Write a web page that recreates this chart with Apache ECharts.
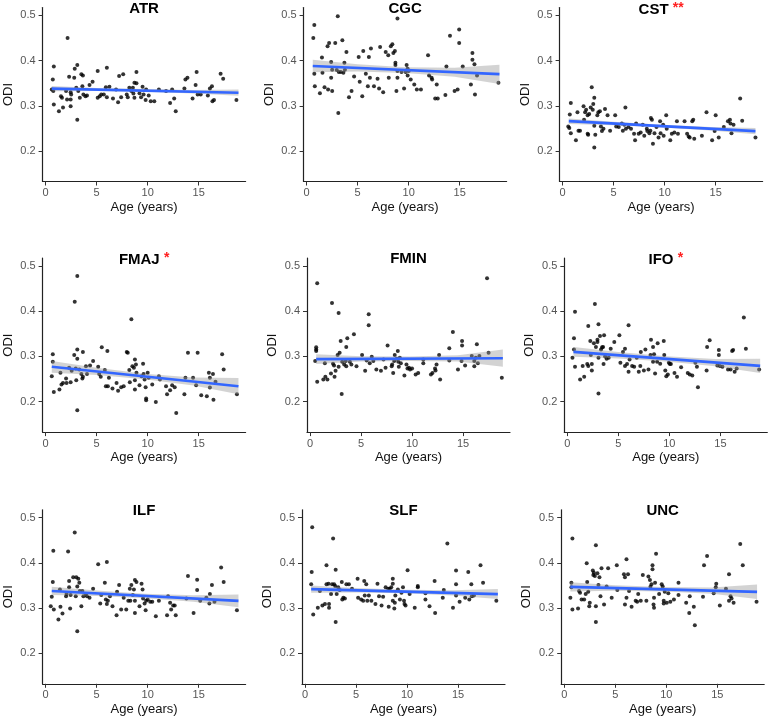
<!DOCTYPE html>
<html><head><meta charset="utf-8">
<script src="https://cdn.jsdelivr.net/npm/echarts@6/dist/echarts.min.js"></script>
<style>html,body{margin:0;padding:0;background:#fff}#c{width:771px;height:720px}</style>
</head><body><div id="c"></div>
<script>
const panelNames = ['ATR','CGC','CST','FMAJ','FMIN','IFO','ILF','SLF','UNC'];
const panelStars = ['','','**','*','','*','','',''];
const xTicks = [0,5,10,15];
const yTicks = [0.2,0.3,0.4,0.5];
const xTitle = 'Age (years)';
const yTitle = 'ODI';

const ATR = [[0.6,.336],[0.7,.358],[0.8,.387],[0.75,.333],[0.8,.303],[1.3,.288],[1.5,.321],[1.6,.318],[1.7,.296],[2.0,.333],[2.15,.45],[2.1,.314],[2.3,.364],[2.45,.330],[2.45,.314],[2.45,.299],[2.5,.325],[2.8,.362],[2.85,.382],[3.0,.340],[3.1,.390],[3.1,.269],[3.2,.333],[3.35,.318],[3.5,.370],[3.65,.367],[3.6,.343],[3.7,.325],[3.9,.321],[4.05,.323],[4.3,.346],[4.6,.353],[5.1,.377],[5.1,.318],[5.3,.321],[5.45,.325],[5.7,.325],[5.9,.341],[6.0,.384],[6.0,.319],[6.25,.342],[6.6,.316],[6.9,.336],[7.1,.308],[7.2,.366],[7.4,.319],[7.6,.370],[7.95,.325],[8.05,.319],[8.2,.340],[8.4,.333],[8.55,.340],[8.6,.327],[8.7,.351],[8.9,.350],[8.9,.375],[8.7,.318],[9.2,.328],[9.35,.319],[9.5,.342],[9.6,.325],[9.8,.313],[9.85,.336],[10.1,.323],[10.3,.310],[10.65,.310],[11.1,.336],[11.8,.333],[12.2,.306],[12.4,.336],[12.6,.316],[12.75,.288],[13.6,.338],[13.7,.358],[13.9,.362],[14.4,.316],[14.7,.346],[14.8,.375],[14.9,.325],[15.2,.325],[15.9,.323],[16.1,.338],[16.3,.343],[16.35,.310],[16.5,.313],[17.15,.371],[17.4,.360],[18.7,.313]];

const CGC = [[0.65,.450],[0.75,.479],[0.75,.371],[0.8,.343],[1.3,.328],[1.5,.407],[1.55,.373],[1.75,.341],[2.05,.432],[2.2,.439],[2.1,.336],[2.4,.362],[2.4,.397],[2.5,.380],[2.5,.333],[2.8,.439],[3.05,.498],[2.95,.379],[3.1,.284],[3.15,.375],[3.35,.375],[3.5,.445],[3.6,.373],[3.7,.395],[3.75,.380],[3.9,.419],[4.15,.319],[4.4,.333],[4.65,.365],[5.1,.408],[5.2,.353],[5.45,.321],[5.55,.421],[5.8,.371],[6.0,.343],[6.1,.408],[6.2,.362],[6.3,.427],[6.6,.343],[6.95,.360],[7.1,.338],[7.2,.430],[7.5,.330],[7.75,.419],[8.0,.412],[8.05,.362],[8.25,.432],[8.4,.436],[8.5,.417],[8.65,.421],[8.7,.395],[8.7,.390],[8.8,.333],[8.9,.493],[8.9,.377],[8.9,.362],[9.3,.375],[9.55,.338],[9.7,.375],[9.8,.390],[9.9,.382],[9.9,.367],[10.0,.377],[10.2,.358],[10.55,.347],[10.8,.336],[11.2,.336],[11.9,.412],[12.0,.367],[12.25,.362],[12.3,.358],[12.6,.316],[12.85,.316],[12.75,.347],[13.6,.324],[13.7,.387],[14.05,.455],[14.5,.333],[14.8,.336],[14.95,.469],[14.95,.439],[15.3,.387],[16.1,.347],[16.25,.402],[16.25,.417],[16.45,.392],[16.5,.325],[16.7,.367],[18.8,.351]];

const CST = [[0.55,.254],[0.65,.251],[0.7,.281],[0.8,.306],[0.8,.239],[1.3,.224],[1.45,.286],[1.55,.245],[1.7,.245],[2.05,.299],[2.1,.269],[2.2,.286],[2.3,.291],[2.45,.279],[2.45,.238],[2.5,.236],[2.6,.282],[2.75,.296],[2.85,.341],[2.95,.291],[3.0,.304],[3.1,.318],[3.1,.256],[3.1,.208],[3.2,.236],[3.4,.279],[3.5,.286],[3.65,.288],[3.75,.254],[3.85,.244],[4.0,.249],[4.15,.293],[4.4,.279],[4.65,.245],[5.15,.279],[5.25,.254],[5.5,.253],[5.8,.261],[5.9,.245],[6.05,.258],[6.15,.296],[6.2,.249],[6.45,.253],[6.7,.249],[7.0,.238],[7.1,.224],[7.2,.261],[7.45,.238],[7.65,.241],[7.85,.258],[8.0,.234],[8.25,.249],[8.3,.244],[8.5,.239],[8.6,.245],[8.65,.273],[8.75,.269],[8.85,.216],[9.0,.239],[9.2,.253],[9.4,.230],[9.55,.266],[9.6,.239],[9.85,.258],[9.9,.234],[10.15,.279],[10.2,.249],[10.55,.224],[10.7,.238],[10.95,.241],[11.2,.266],[11.3,.238],[11.95,.266],[12.2,.238],[12.35,.232],[12.45,.230],[12.7,.266],[12.8,.269],[12.9,.227],[13.65,.234],[14.1,.286],[14.65,.224],[14.9,.244],[15.0,.279],[15.3,.230],[15.8,.253],[16.2,.266],[16.4,.269],[16.45,.261],[16.55,.239],[16.75,.258],[17.4,.316],[17.6,.267],[18.9,.230]];

const FMAJ = [[0.6,.256],[0.7,.305],[0.7,.288],[0.8,.221],[1.35,.227],[1.45,.264],[1.55,.238],[1.7,.241],[2.0,.251],[2.05,.241],[2.3,.275],[2.45,.243],[2.55,.268],[2.8,.303],[2.85,.421],[2.95,.273],[3.0,.247],[3.1,.478],[3.1,.315],[3.1,.295],[3.1,.181],[3.3,.271],[3.5,.261],[3.6,.251],[3.65,.310],[3.65,.255],[3.95,.278],[4.05,.261],[4.35,.280],[4.65,.290],[5.15,.277],[5.25,.261],[5.4,.255],[5.5,.320],[5.8,.270],[5.9,.234],[6.05,.312],[6.1,.234],[6.2,.253],[6.55,.229],[6.95,.241],[7.1,.224],[7.4,.232],[7.65,.234],[7.95,.310],[8.05,.308],[8.2,.270],[8.25,.243],[8.4,.382],[8.5,.278],[8.65,.275],[8.75,.293],[8.75,.247],[8.85,.282],[8.75,.227],[8.9,.264],[9.2,.236],[9.4,.256],[9.55,.284],[9.6,.261],[9.7,.249],[9.8,.232],[9.85,.207],[9.85,.203],[10.0,.264],[10.1,.253],[10.45,.238],[10.8,.199],[11.1,.256],[11.2,.249],[11.8,.234],[11.9,.216],[12.2,.225],[12.4,.236],[12.65,.232],[12.8,.175],[13.6,.216],[13.7,.253],[13.95,.308],[14.45,.253],[14.75,.236],[14.9,.308],[15.25,.214],[15.8,.212],[16.0,.264],[16.1,.253],[16.1,.231],[16.4,.261],[16.45,.204],[16.65,.244],[17.3,.305],[17.45,.271],[18.75,.216]];

const FMIN = [[0.5,.290],[0.6,.320],[0.6,.315],[0.6,.312],[0.7,.462],[0.7,.244],[1.3,.249],[1.45,.285],[1.5,.255],[1.7,.249],[2.05,.262],[2.15,.418],[2.25,.284],[2.35,.280],[2.4,.255],[2.5,.268],[2.7,.303],[2.8,.396],[2.8,.277],[2.9,.308],[3.0,.334],[3.1,.217],[3.15,.288],[3.35,.282],[3.5,.290],[3.55,.321],[3.55,.278],[3.65,.340],[3.9,.288],[4.05,.282],[4.3,.349],[4.55,.278],[5.1,.303],[5.4,.268],[5.55,.291],[5.75,.393],[5.75,.369],[5.85,.285],[6.05,.299],[6.2,.290],[6.5,.271],[6.95,.268],[7.2,.293],[7.4,.275],[7.6,.324],[8.0,.278],[8.05,.282],[8.15,.263],[8.25,.290],[8.3,.303],[8.5,.295],[8.6,.312],[8.65,.288],[8.7,.277],[8.8,.297],[8.9,.285],[9.25,.258],[9.45,.282],[9.55,.273],[9.7,.275],[9.8,.271],[10.0,.273],[10.35,.260],[10.6,.263],[11.1,.285],[11.1,.293],[11.85,.260],[12.0,.263],[12.25,.273],[12.3,.269],[12.4,.282],[12.65,.303],[12.75,.249],[13.65,.318],[13.65,.291],[14.0,.354],[14.5,.271],[14.85,.290],[14.9,.334],[14.9,.324],[15.2,.280],[15.85,.301],[16.1,.290],[16.1,.278],[16.25,.297],[16.35,.327],[16.45,.285],[16.6,.301],[17.35,.473],[17.5,.308],[18.8,.253]];

const IFO = [[0.5,.297],[0.65,.340],[0.65,.315],[0.75,.399],[0.75,.277],[1.25,.249],[1.5,.279],[1.65,.255],[1.95,.283],[2.05,.367],[2.05,.279],[2.25,.334],[2.3,.303],[2.4,.283],[2.4,.269],[2.6,.329],[2.7,.416],[2.8,.321],[2.95,.332],[2.95,.337],[3.05,.218],[3.05,.371],[3.05,.297],[3.2,.345],[3.3,.315],[3.4,.320],[3.5,.321],[3.55,.283],[3.6,.347],[3.7,.300],[3.85,.295],[4.05,.297],[4.25,.317],[4.6,.332],[5.1,.347],[5.2,.286],[5.45,.310],[5.65,.317],[5.65,.279],[5.85,.283],[6.0,.369],[6.0,.266],[6.1,.293],[6.35,.279],[6.55,.277],[6.8,.297],[7.0,.266],[7.15,.279],[7.2,.310],[7.5,.269],[7.65,.315],[7.95,.271],[8.15,.303],[8.2,.337],[8.4,.288],[8.4,.321],[8.5,.305],[8.6,.262],[8.8,.288],[8.85,.329],[9.1,.284],[9.45,.334],[9.5,.303],[9.6,.269],[9.7,.256],[9.85,.260],[9.95,.286],[10.05,.283],[10.15,.283],[10.5,.263],[10.75,.255],[11.15,.276],[11.8,.263],[12.0,.260],[12.25,.258],[12.55,.286],[12.7,.277],[12.8,.232],[13.65,.269],[13.7,.321],[13.95,.336],[14.7,.280],[14.85,.303],[14.85,.314],[14.95,.279],[15.2,.277],[15.75,.271],[16.0,.271],[16.15,.312],[16.25,.314],[16.4,.266],[16.6,.273],[17.3,.386],[17.5,.317],[18.8,.271]];

const ILF = [[0.5,.304],[0.6,.325],[0.7,.358],[0.75,.427],[0.8,.297],[1.25,.275],[1.4,.341],[1.45,.303],[1.65,.288],[2.0,.326],[2.05,.331],[2.2,.425],[2.3,.360],[2.3,.346],[2.4,.299],[2.45,.329],[2.7,.368],[2.85,.467],[2.95,.326],[3.0,.368],[3.1,.249],[3.2,.365],[3.1,.348],[3.3,.356],[3.35,.338],[3.5,.304],[3.6,.338],[3.7,.326],[3.95,.331],[4.05,.326],[4.3,.323],[4.65,.343],[5.15,.397],[5.35,.310],[5.45,.329],[5.8,.356],[5.9,.319],[6.0,.402],[6.0,.309],[6.1,.316],[6.3,.326],[6.55,.304],[6.95,.284],[7.0,.336],[7.2,.351],[7.4,.297],[7.65,.323],[7.9,.297],[8.1,.316],[8.25,.343],[8.3,.316],[8.4,.351],[8.55,.329],[8.65,.341],[8.75,.362],[8.75,.316],[8.75,.289],[8.9,.358],[9.2,.304],[9.4,.354],[9.5,.341],[9.55,.321],[9.7,.310],[9.8,.295],[9.85,.316],[10.0,.319],[10.25,.314],[10.45,.314],[10.8,.282],[11.1,.316],[11.9,.284],[12.0,.326],[12.2,.312],[12.3,.297],[12.5,.306],[12.65,.306],[12.75,.284],[13.8,.321],[13.95,.371],[14.5,.289],[14.85,.340],[14.85,.363],[15.15,.316],[15.75,.323],[16.05,.310],[16.1,.331],[16.3,.351],[16.55,.314],[17.2,.390],[17.45,.358],[18.75,.295]];

const SLF = [[0.6,.353],[0.65,.380],[0.7,.479],[0.8,.286],[1.25,.301],[1.45,.338],[1.7,.306],[1.95,.309],[2.1,.395],[2.1,.353],[2.3,.354],[2.35,.309],[2.35,.301],[2.55,.331],[2.65,.353],[2.75,.454],[2.85,.353],[2.95,.349],[3.0,.385],[3.1,.331],[3.0,.269],[3.25,.346],[3.4,.340],[3.6,.358],[3.65,.319],[3.75,.323],[3.9,.321],[4.05,.353],[4.3,.353],[4.6,.343],[5.15,.365],[5.2,.323],[5.5,.319],[5.7,.316],[5.8,.360],[5.85,.328],[6.0,.353],[6.1,.316],[6.25,.328],[6.5,.316],[6.9,.309],[7.1,.354],[7.25,.326],[7.5,.306],[7.65,.325],[7.9,.346],[8.15,.343],[8.2,.303],[8.3,.343],[8.45,.346],[8.6,.365],[8.6,.354],[8.6,.316],[8.75,.299],[8.8,.312],[8.85,.328],[9.1,.341],[9.3,.319],[9.45,.334],[9.6,.346],[9.7,.316],[9.75,.309],[9.85,.306],[10.05,.384],[10.25,.331],[11.05,.349],[11.05,.346],[10.75,.301],[11.8,.333],[11.8,.319],[12.2,.304],[12.7,.360],[12.75,.289],[13.5,.323],[13.6,.340],[13.95,.443],[14.5,.301],[14.8,.328],[14.8,.353],[14.8,.383],[15.15,.314],[15.7,.323],[16.0,.380],[16.1,.319],[16.3,.353],[16.35,.326],[16.55,.328],[17.2,.395],[17.45,.356],[18.75,.316]];

const UNC = [[0.6,.323],[0.7,.356],[0.7,.346],[0.8,.454],[0.8,.297],[1.35,.299],[1.45,.338],[1.55,.334],[1.7,.319],[1.95,.319],[2.1,.331],[2.2,.399],[2.25,.358],[2.35,.336],[2.45,.304],[2.5,.312],[2.8,.383],[2.85,.373],[2.9,.378],[3.0,.371],[3.1,.439],[3.1,.304],[3.1,.269],[3.25,.377],[3.35,.351],[3.45,.368],[3.55,.326],[3.65,.388],[3.9,.308],[4.15,.348],[4.3,.388],[4.65,.323],[5.15,.395],[5.2,.340],[5.85,.375],[5.95,.368],[5.95,.308],[6.1,.408],[6.1,.323],[6.25,.375],[6.35,.338],[6.6,.303],[7.0,.316],[7.15,.314],[7.25,.331],[7.5,.316],[7.7,.373],[8.05,.316],[8.25,.370],[8.4,.362],[8.45,.347],[8.55,.353],[8.65,.386],[8.65,.395],[8.75,.308],[8.8,.301],[8.8,.323],[8.9,.356],[9.0,.420],[9.3,.331],[9.55,.353],[9.65,.348],[9.75,.316],[9.75,.310],[9.85,.336],[10.05,.312],[10.2,.333],[10.4,.314],[10.75,.319],[11.2,.356],[11.2,.329],[11.95,.312],[12.25,.289],[12.3,.326],[12.7,.303],[12.8,.262],[13.6,.325],[13.7,.395],[14.0,.415],[14.65,.333],[14.85,.346],[14.9,.354],[15.25,.306],[15.85,.343],[16.15,.375],[16.15,.316],[16.3,.326],[16.4,.321],[16.6,.312],[17.25,.442],[17.5,.395],[18.85,.314]];

// fitted line end values at fitX
const fitX = [0.6, 18.9];
const fitATR = [0.338, 0.329];
const fitCGC = [0.388, 0.370];
const fitCST = [0.266, 0.244];
const fitFMAJ = [0.277, 0.234];
const fitFMIN = [0.294, 0.296];
const fitIFO = [0.310, 0.279];
const fitILF = [0.338, 0.316];
const fitSLF = [0.342, 0.331];
const fitUNC = [0.347, 0.336];

// confidence band edges at bandX
const bandX = [0.6, 5, 9.7, 14.5, 18.9];
const loATR = [.332,.3325,.331,.327,.322];   const hiATR = [.344,.3395,.337,.335,.336];
const loCGC = [.374,.3757,.3725,.3644,.348]; const hiCGC = [.402,.3917,.3855,.3844,.391];
const loCST = [.260,.2567,.252,.2453,.237];  const hiCST = [.272,.2647,.258,.2533,.251];
const loFMAJ = [.264,.2587,.2497,.2354,.216];const hiFMAJ = [.290,.2747,.2617,.2534,.252];
const loFMIN = [.283,.2885,.290,.2885,.277]; const hiFMIN = [.305,.3005,.300,.3025,.315];
const loIFO = [.299,.2955,.2885,.2783,.263]; const hiIFO = [.321,.3095,.3005,.2943,.295];
const loILF = [.329,.3267,.322,.3143,.302];  const hiILF = [.347,.3387,.332,.3283,.330];
const loSLF = [.334,.3344,.3326,.3277,.320]; const hiSLF = [.350,.3444,.3406,.3397,.342];
const loUNC = [.337,.3384,.3366,.3317,.320]; const hiUNC = [.357,.3504,.3466,.3457,.352];

const points = [ATR,CGC,CST,FMAJ,FMIN,IFO,ILF,SLF,UNC];
const fits = [fitATR,fitCGC,fitCST,fitFMAJ,fitFMIN,fitIFO,fitILF,fitSLF,fitUNC];
const bandsLo = [loATR,loCGC,loCST,loFMAJ,loFMIN,loIFO,loILF,loSLF,loUNC];
const bandsHi = [hiATR,hiCGC,hiCST,hiFMAJ,hiFMIN,hiIFO,hiILF,hiSLF,hiUNC];

// layout
const gridLefts = [[42.6,303.6,559.6],[42.6,307,564.3],[42.6,302,561.2]];
const gridTops = [7.5,258.1,509.8];
const gridW = 203, gridH = 174;
const FONT = '"Liberation Sans", Arial, Helvetica, sans-serif';

const grids = [], xAxes = [], yAxes = [], series = [], titles = [];
for (let i = 0; i < 9; i++) {
  const r = Math.floor(i / 3), c = i % 3;
  const left = gridLefts[r][c], top = gridTops[r];
  grids.push({left: left, top: top, width: gridW, height: gridH, containLabel: false});
  xAxes.push({
    gridIndex: i, type: 'value', min: -0.3, max: 19.6,
    name: xTitle, nameLocation: 'middle', nameGap: 19,
    nameTextStyle: {fontSize: 13, color: '#111', fontFamily: FONT},
    axisLine: {onZero: false, lineStyle: {color: '#222', width: 1.2}},
    axisTick: {show: true, length: 4, inside: false, customValues: xTicks, lineStyle: {color: '#333', width: 1}},
    axisLabel: {customValues: xTicks, fontSize: 11, color: '#555', margin: 6, fontFamily: FONT},
    splitLine: {show: false}
  });
  yAxes.push({
    gridIndex: i, type: 'value', min: 0.1325, max: 0.5175,
    name: yTitle, nameLocation: 'middle', nameGap: 28,
    nameTextStyle: {fontSize: 13, color: '#111', fontFamily: FONT},
    axisLine: {show: true, onZero: false, lineStyle: {color: '#222', width: 1.2}},
    axisTick: {show: true, length: 4, inside: false, customValues: yTicks, lineStyle: {color: '#333', width: 1}},
    axisLabel: {customValues: yTicks, fontSize: 11, color: '#555', margin: 7, fontFamily: FONT,
      formatter: v => Number(v).toFixed(1)},
    splitLine: {show: false}
  });
  titles.push({
    text: panelStars[i] ? panelNames[i] + ' {s|' + panelStars[i] + '}' : panelNames[i],
    left: left + gridW / 2, top: top - 6.5, textAlign: 'center', padding: 0,
    textStyle: {fontSize: 15, fontWeight: 'bold', color: '#000', fontFamily: FONT,
      rich: {s: {fontSize: 14, fontWeight: 'bold', color: '#ff2020', fontFamily: FONT, padding: [0,0,3,0]}}}
  });
  series.push({
    type: 'scatter', xAxisIndex: i, yAxisIndex: i, data: points[i],
    symbolSize: 4, itemStyle: {color: '#000'}, z: 2, silent: true
  });
  const lo = bandsLo[i], hi = bandsHi[i];
  series.push({
    type: 'custom', xAxisIndex: i, yAxisIndex: i, z: 3, silent: true,
    data: bandX.map((x, j) => [x, lo[j], hi[j]]),
    encode: {x: 0, y: [1, 2]},
    renderItem: function (params, api) {
      if (params.dataIndex !== 0) return null;
      const pts = [];
      for (let j = 0; j < bandX.length; j++) pts.push(api.coord([bandX[j], hi[j]]));
      for (let j = bandX.length - 1; j >= 0; j--) pts.push(api.coord([bandX[j], lo[j]]));
      return {type: 'polygon', shape: {points: pts, smooth: 0}, style: {fill: 'rgba(150,150,150,0.42)', stroke: null}};
    }
  });
  series.push({
    type: 'line', xAxisIndex: i, yAxisIndex: i, z: 4, silent: true,
    data: fitX.map((x, j) => [x, fits[i][j]]),
    symbol: 'none', lineStyle: {color: '#3366FF', width: 2.6}
  });
}

const chart = echarts.init(document.getElementById('c'), null, {renderer: 'canvas'});
chart.setOption({
  animation: false,
  backgroundColor: '#fff',
  title: titles,
  grid: grids, xAxis: xAxes, yAxis: yAxes, series: series
});
</script>
</body></html>
